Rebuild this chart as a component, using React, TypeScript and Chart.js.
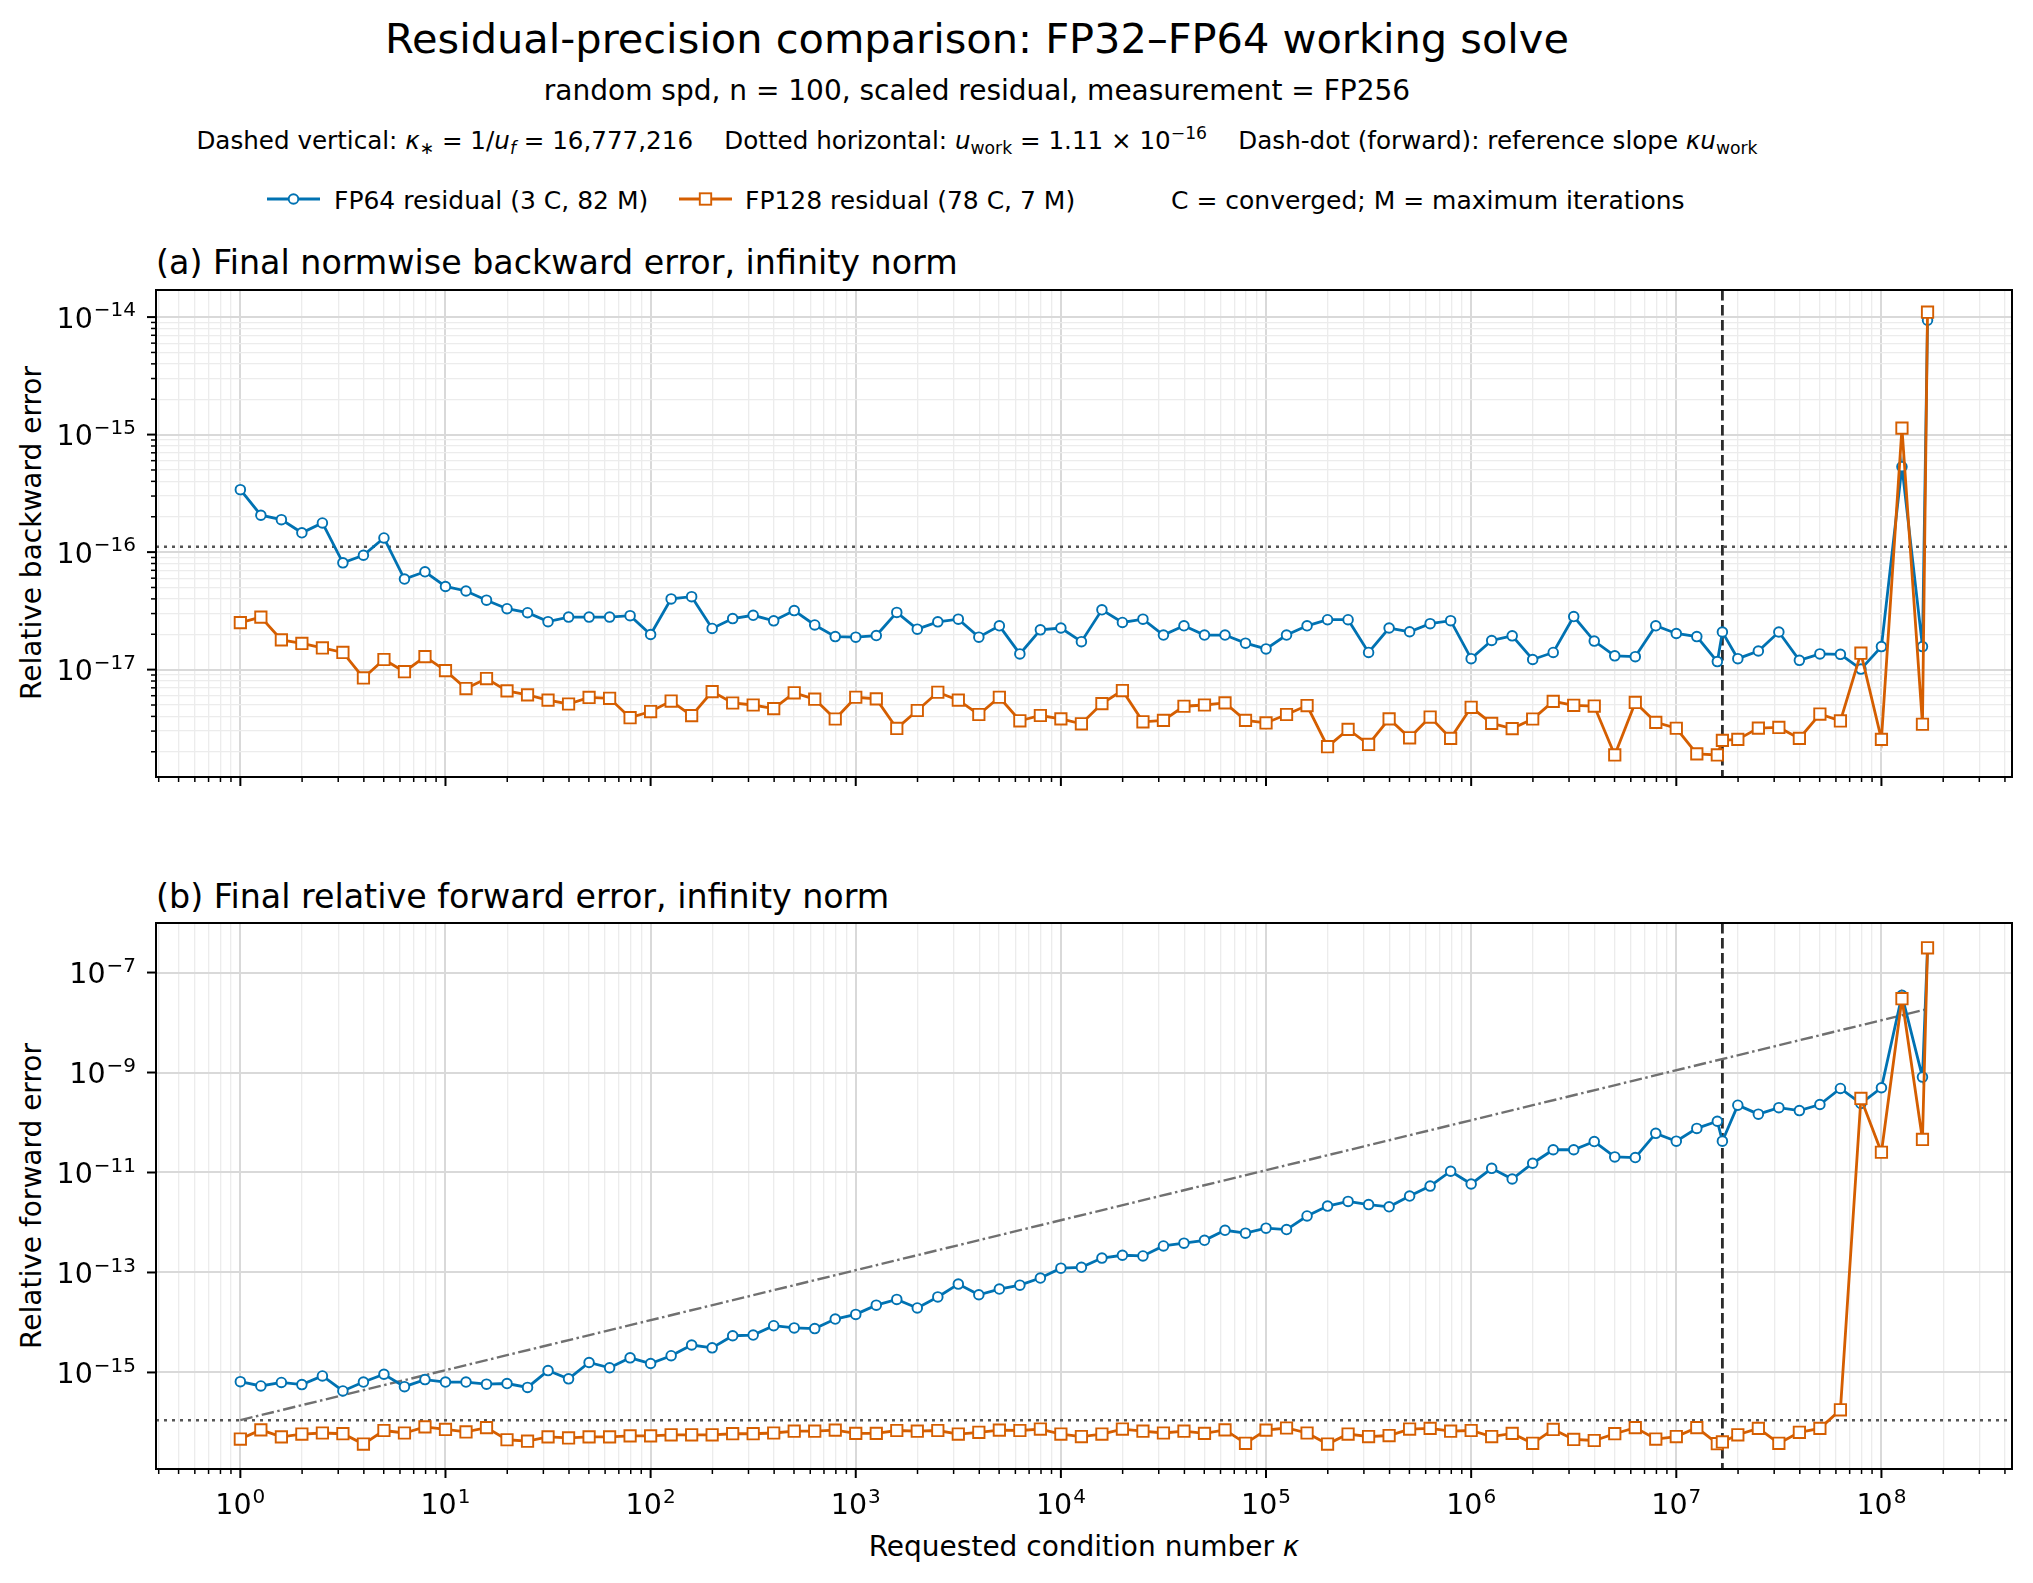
import { useEffect, useRef } from 'react';
import { Chart, registerables } from 'chart.js';

Chart.register(...registerables);

const BLUE = '#0072B2';
const ORANGE = '#D55E00';
const FONT = '"DejaVu Sans", sans-serif';
const GRID_MAJOR = '#d9d9d9';
const GRID_MINOR = '#ececec';

// requested condition numbers: log grid, with kappa* and 10 kappa* slotted in
const kappa = [
  1, 1.259, 1.585, 1.995, 2.512, 3.162, 3.981, 5.012, 6.31, 7.943,
  10, 12.59, 15.85, 19.95, 25.12, 31.62, 39.81, 50.12, 63.1, 79.43,
  100, 125.9, 158.5, 199.5, 251.2, 316.2, 398.1, 501.2, 631, 794.3,
  1e3, 1.259e3, 1.585e3, 1.995e3, 2.512e3, 3.162e3, 3.981e3, 5.012e3, 6.31e3, 7.943e3,
  1e4, 1.259e4, 1.585e4, 1.995e4, 2.512e4, 3.162e4, 3.981e4, 5.012e4, 6.31e4, 7.943e4,
  1e5, 1.259e5, 1.585e5, 1.995e5, 2.512e5, 3.162e5, 3.981e5, 5.012e5, 6.31e5, 7.943e5,
  1e6, 1.259e6, 1.585e6, 1.995e6, 2.512e6, 3.162e6, 3.981e6, 5.012e6, 6.31e6, 7.943e6,
  1e7, 1.259e7, 1.585e7, 16777216, 1.995e7, 2.512e7, 3.162e7, 3.981e7, 5.012e7, 6.31e7, 7.943e7,
  1e8, 1.259e8, 1.585e8, 167772160,
];

// (a) backward error
const fp64Backward = [
  3.4e-16, 2.06e-16, 1.89e-16, 1.46e-16, 1.77e-16, 8.1e-17, 9.4e-17, 1.32e-16, 5.9e-17, 6.8e-17,
  5.1e-17, 4.67e-17, 3.9e-17, 3.3e-17, 3.05e-17, 2.56e-17, 2.8e-17, 2.8e-17, 2.8e-17, 2.88e-17,
  1.99e-17, 4.0e-17, 4.18e-17, 2.24e-17, 2.72e-17, 2.9e-17, 2.6e-17, 3.18e-17, 2.4e-17, 1.91e-17,
  1.89e-17, 1.95e-17, 3.07e-17, 2.21e-17, 2.55e-17, 2.69e-17, 1.89e-17, 2.36e-17, 1.36e-17, 2.18e-17,
  2.26e-17, 1.73e-17, 3.23e-17, 2.52e-17, 2.69e-17, 1.97e-17, 2.36e-17, 1.97e-17, 1.97e-17, 1.68e-17,
  1.5e-17, 1.97e-17, 2.36e-17, 2.66e-17, 2.66e-17, 1.4e-17, 2.26e-17, 2.1e-17, 2.46e-17, 2.61e-17,
  1.24e-17, 1.77e-17, 1.94e-17, 1.22e-17, 1.4e-17, 2.83e-17, 1.75e-17, 1.31e-17, 1.29e-17, 2.36e-17,
  2.03e-17, 1.91e-17, 1.17e-17, 2.09e-17, 1.24e-17, 1.44e-17, 2.09e-17, 1.2e-17, 1.36e-17, 1.35e-17, 1.01e-17,
  1.57e-17, 5.33e-16, 1.57e-17, 9.4e-15,
];
const fp128Backward = [
  2.51e-17, 2.8e-17, 1.79e-17, 1.67e-17, 1.53e-17, 1.4e-17, 8.5e-18, 1.22e-17, 9.6e-18, 1.29e-17,
  9.8e-18, 6.9e-18, 8.4e-18, 6.6e-18, 6.1e-18, 5.5e-18, 5.1e-18, 5.8e-18, 5.7e-18, 3.9e-18,
  4.4e-18, 5.4e-18, 4.06e-18, 6.5e-18, 5.2e-18, 5.0e-18, 4.66e-18, 6.35e-18, 5.6e-18, 3.8e-18,
  5.82e-18, 5.64e-18, 3.16e-18, 4.49e-18, 6.42e-18, 5.5e-18, 4.15e-18, 5.82e-18, 3.67e-18, 4.07e-18,
  3.81e-18, 3.46e-18, 5.14e-18, 6.64e-18, 3.6e-18, 3.7e-18, 4.88e-18, 5.0e-18, 5.21e-18, 3.7e-18,
  3.52e-18, 4.15e-18, 4.95e-18, 2.21e-18, 3.1e-18, 2.31e-18, 3.81e-18, 2.63e-18, 3.95e-18, 2.6e-18,
  4.78e-18, 3.49e-18, 3.15e-18, 3.8e-18, 5.37e-18, 4.97e-18, 4.9e-18, 1.88e-18, 5.26e-18, 3.56e-18,
  3.17e-18, 1.92e-18, 1.88e-18, 2.5e-18, 2.55e-18, 3.18e-18, 3.22e-18, 2.6e-18, 4.19e-18, 3.66e-18, 1.38e-17,
  2.55e-18, 1.135e-15, 3.43e-18, 1.1e-14,
];

// (b) forward error
const fp64Forward = [
  6.53e-16, 5.36e-16, 6.3e-16, 5.72e-16, 8.5e-16, 4.26e-16, 6.42e-16, 9.2e-16, 5.19e-16, 7.2e-16,
  6.42e-16, 6.42e-16, 5.82e-16, 6.0e-16, 5.02e-16, 1.09e-15, 7.44e-16, 1.58e-15, 1.24e-15, 1.96e-15,
  1.51e-15, 2.16e-15, 3.54e-15, 3.1e-15, 5.42e-15, 5.6e-15, 8.6e-15, 7.78e-15, 7.53e-15, 1.17e-14,
  1.45e-14, 2.22e-14, 2.89e-14, 1.95e-14, 3.24e-14, 5.86e-14, 3.58e-14, 4.66e-14, 5.57e-14, 7.74e-14,
  1.22e-13, 1.27e-13, 1.94e-13, 2.21e-13, 2.14e-13, 3.39e-13, 3.86e-13, 4.4e-13, 6.98e-13, 6.12e-13,
  7.7e-13, 7.22e-13, 1.35e-12, 2.13e-12, 2.64e-12, 2.28e-12, 2.06e-12, 3.38e-12, 5.35e-12, 1.06e-11,
  5.89e-12, 1.21e-11, 7.41e-12, 1.53e-11, 2.85e-11, 2.85e-11, 4.16e-11, 2.05e-11, 1.99e-11, 6.07e-11,
  4.23e-11, 7.63e-11, 1.06e-10, 4.23e-11, 2.22e-10, 1.47e-10, 1.98e-10, 1.73e-10, 2.29e-10, 4.8e-10, 2.41e-10,
  4.96e-10, 3.5e-8, 8.1e-10, 3.0e-7,
];
const fp128Forward = [
  4.65e-17, 7.1e-17, 5.13e-17, 5.85e-17, 6.14e-17, 5.94e-17, 3.69e-17, 6.89e-17, 6.14e-17, 8.13e-17,
  7.24e-17, 6.45e-17, 7.86e-17, 4.5e-17, 4.21e-17, 5.13e-17, 4.89e-17, 5.13e-17, 5.13e-17, 5.38e-17,
  5.38e-17, 5.66e-17, 5.66e-17, 5.66e-17, 5.94e-17, 5.94e-17, 6.14e-17, 6.67e-17, 6.67e-17, 7.0e-17,
  6.04e-17, 6.04e-17, 6.89e-17, 6.67e-17, 6.89e-17, 5.85e-17, 6.35e-17, 7.0e-17, 6.89e-17, 7.36e-17,
  5.85e-17, 5.21e-17, 5.85e-17, 7.36e-17, 6.67e-17, 6.14e-17, 6.67e-17, 6.04e-17, 7.1e-17, 3.82e-17,
  7.0e-17, 7.73e-17, 6.14e-17, 3.69e-17, 5.85e-17, 5.21e-17, 5.47e-17, 7.36e-17, 7.6e-17, 6.67e-17,
  6.89e-17, 5.21e-17, 6.04e-17, 3.82e-17, 7.24e-17, 4.57e-17, 4.35e-17, 5.94e-17, 7.86e-17, 4.65e-17,
  5.21e-17, 7.86e-17, 3.75e-17, 4.07e-17, 5.66e-17, 7.6e-17, 3.82e-17, 6.35e-17, 7.6e-17, 1.79e-16, 3.03e-10,
  2.54e-11, 3.0e-8, 4.58e-11, 3.13e-7,
];

// reference slope kappa * u_work (dash-dot, forward panel)
const refKappa = [1, 167772160];
const refSlope = [1.11e-16, 1.862e-8];

const kappaStar = 16777216;
const uWork = 1.11e-16;

const isPow = (v: number) => Math.abs(Math.log10(v) - Math.round(Math.log10(v))) < 1e-6;

function logTicks(min: number, max: number, keep: (e: number, m: number) => boolean) {
  const out: { value: number }[] = [];
  for (let e = Math.floor(Math.log10(min)); e <= Math.ceil(Math.log10(max)); e++) {
    for (let m = 1; m <= 9; m++) {
      const v = Number(`${m}e${e}`);
      if (v >= min && v <= max && keep(e, m)) out.push({ value: v });
    }
  }
  return out;
}

const pts = (xs: number[], ys: number[]) => xs.map((x, i) => ({ x, y: ys[i] }));

// "10" with a raised exponent, like matplotlib's mathtext tick labels
function drawPowLabel(ctx: CanvasRenderingContext2D, v: number, x: number, y: number, align: 'center' | 'right') {
  const exp = String(Math.round(Math.log10(v))).replace('-', '\u2212');
  const base = `28.5px ${FONT}`;
  const small = `20px ${FONT}`;
  ctx.font = base;
  const wb = ctx.measureText('10').width;
  ctx.font = small;
  const we = ctx.measureText(exp).width;
  const total = wb + 1 + we;
  const x0 = align === 'center' ? x - total / 2 : x - total;
  ctx.fillStyle = '#000';
  ctx.textAlign = 'left';
  ctx.textBaseline = 'alphabetic';
  ctx.font = base;
  ctx.fillText('10', x0, y);
  ctx.font = small;
  ctx.fillText(exp, x0 + wb + 1, y - 11.5);
}

const axesPlugin = {
  id: 'axesDecor',
  beforeDatasetsDraw(chart: any) {
    const { ctx, chartArea: a } = chart;
    const xs = chart.scales.x;
    const ys = chart.scales.y;
    ctx.save();
    ctx.beginPath();
    ctx.rect(a.left, a.top, a.right - a.left, a.bottom - a.top);
    ctx.clip();
    // dotted horizontal at u_work
    const yp = ys.getPixelForValue(uWork);
    ctx.setLineDash([3, 5]);
    ctx.strokeStyle = '#555555';
    ctx.lineWidth = 2.5;
    ctx.beginPath();
    ctx.moveTo(a.left, yp);
    ctx.lineTo(a.right, yp);
    ctx.stroke();
    // dashed vertical at kappa*
    const xp = xs.getPixelForValue(kappaStar);
    ctx.setLineDash([10.5, 4.5]);
    ctx.strokeStyle = '#2b2b2b';
    ctx.lineWidth = 2.8;
    ctx.beginPath();
    ctx.moveTo(xp, a.top);
    ctx.lineTo(xp, a.bottom);
    ctx.stroke();
    ctx.restore();
  },
  afterDraw(chart: any, _args: any, opts: any) {
    const { ctx, chartArea: a } = chart;
    const xs = chart.scales.x;
    const ys = chart.scales.y;
    ctx.save();
    ctx.strokeStyle = '#000';
    for (const t of xs.ticks) {
      const p = xs.getPixelForValue(t.value);
      const major = isPow(t.value);
      ctx.lineWidth = major ? 2 : 1.5;
      ctx.beginPath();
      ctx.moveTo(p, a.bottom);
      ctx.lineTo(p, a.bottom + (major ? 9 : 5));
      ctx.stroke();
      if (major && opts.xLabels) drawPowLabel(ctx, t.value, p, a.bottom + 45, 'center');
    }
    for (const t of ys.ticks) {
      const p = ys.getPixelForValue(t.value);
      const major = isPow(t.value);
      ctx.lineWidth = major ? 2 : 1.5;
      ctx.beginPath();
      ctx.moveTo(a.left, p);
      ctx.lineTo(a.left - (major ? 9 : 5), p);
      ctx.stroke();
      if (major) drawPowLabel(ctx, t.value, a.left - 20, p + 10.8, 'right');
    }
    ctx.lineWidth = 2;
    ctx.strokeRect(a.left, a.top, a.right - a.left, a.bottom - a.top);
    ctx.restore();
  },
};

function logAxis(min: number, max: number, keep: (e: number, m: number) => boolean, fit: (s: any) => void) {
  return {
    type: 'logarithmic' as const,
    min,
    max,
    bounds: 'data' as const,
    afterBuildTicks: (s: any) => {
      s.ticks = logTicks(s.min, s.max, keep);
    },
    afterFit: fit,
    border: { display: false },
    grid: {
      drawTicks: false,
      color: (c: any) => (c.tick && isPow(c.tick.value) ? GRID_MAJOR : GRID_MINOR),
      lineWidth: (c: any) => (c.tick && isPow(c.tick.value) ? 2 : 1.3),
    },
    ticks: { display: false, autoSkip: false },
  };
}

const X_MIN = 0.388;
const X_MAX = 4.33e8;

function seriesSets(fp64: number[], fp128: number[]) {
  return [
    {
      label: 'FP64 residual (3 C, 82 M)',
      data: pts(kappa, fp64),
      borderColor: BLUE,
      backgroundColor: BLUE,
      borderWidth: 2.8,
      pointStyle: 'circle',
      pointRadius: 4.8,
      pointBorderWidth: 1.9,
      pointBackgroundColor: '#fff',
      pointBorderColor: BLUE,
      order: 1,
    },
    {
      label: 'FP128 residual (78 C, 7 M)',
      data: pts(kappa, fp128),
      borderColor: ORANGE,
      backgroundColor: ORANGE,
      borderWidth: 2.8,
      pointStyle: 'rect',
      pointRadius: 8,
      pointBorderWidth: 1.9,
      pointBackgroundColor: '#fff',
      pointBorderColor: ORANGE,
      order: 0,
    },
  ];
}

const baseOptions = {
  responsive: false,
  animation: false as const,
  layout: { padding: { top: 36, left: 0, right: 21, bottom: 26 } },
  elements: { line: { tension: 0 } },
};

function Handle({ color, square, left }: { color: string; square?: boolean; left: number }) {
  return (
    <svg width={53} height={20} style={{ position: 'absolute', left, top: 189 }}>
      <line x1={0} y1={10} x2={53} y2={10} stroke={color} strokeWidth={2.8} />
      {square ? (
        <rect x={20.8} y={4.3} width={11.4} height={11.4} fill="#fff" stroke={color} strokeWidth={1.9} />
      ) : (
        <circle cx={26.5} cy={10} r={4.8} fill="#fff" stroke={color} strokeWidth={1.9} />
      )}
    </svg>
  );
}

const centered = (x: number, y: number, size: number): React.CSSProperties => ({
  position: 'absolute',
  left: x,
  top: y,
  transform: 'translate(-50%, -50%)',
  fontSize: size,
  lineHeight: 1,
  whiteSpace: 'pre',
});

const leftText = (x: number, y: number, size: number): React.CSSProperties => ({
  position: 'absolute',
  left: x,
  top: y,
  transform: 'translateY(-50%)',
  fontSize: size,
  lineHeight: 1,
  whiteSpace: 'pre',
});

const subStyle: React.CSSProperties = { fontSize: '70%', verticalAlign: '-0.3em', lineHeight: 0 };
const supStyle: React.CSSProperties = { fontSize: '70%', verticalAlign: '0.55em', lineHeight: 0 };

export default function App(): React.JSX.Element {
  const topRef = useRef<HTMLCanvasElement>(null);
  const botRef = useRef<HTMLCanvasElement>(null);

  useEffect(() => {
    document.body.style.margin = '0';
    if (!topRef.current || !botRef.current) return;

    const top = new Chart(topRef.current, {
      type: 'line',
      data: { datasets: seriesSets(fp64Backward, fp128Backward) as any },
      options: {
        ...baseOptions,
        plugins: { legend: { display: false }, tooltip: { enabled: false }, axesDecor: { xLabels: false } },
        scales: {
          x: logAxis(X_MIN, X_MAX, () => true, (s: any) => { s.height = 10; }),
          y: logAxis(1.22e-18, 1.7e-14, () => true, (s: any) => { s.width = 156; }),
        },
      } as any,
      plugins: [axesPlugin],
    });

    const bot = new Chart(botRef.current, {
      type: 'line',
      data: {
        datasets: [
          ...seriesSets(fp64Forward, fp128Forward),
          {
            label: 'reference slope',
            data: pts(refKappa, refSlope),
            borderColor: '#707070',
            borderWidth: 2.4,
            borderDash: [12.5, 3.5, 2.5, 3.5],
            pointRadius: 0,
            order: 2,
          },
        ] as any,
      },
      options: {
        ...baseOptions,
        layout: { padding: { top: 36, left: 0, right: 21, bottom: 10 } },
        plugins: { legend: { display: false }, tooltip: { enabled: false }, axesDecor: { xLabels: true } },
        scales: {
          x: logAxis(X_MIN, X_MAX, () => true, (s: any) => { s.height = 60; }),
          y: logAxis(1.17e-17, 9.8e-7, (e, m) => m === 1 && Math.abs(e) % 2 === 1, (s: any) => {
            s.width = 156;
          }),
        },
      } as any,
      plugins: [axesPlugin],
    });

    return () => {
      top.destroy();
      bot.destroy();
    };
  }, []);

  return (
    <div
      style={{
        position: 'relative',
        width: 2033,
        height: 1583,
        background: '#fff',
        color: '#000',
        fontFamily: FONT,
        overflow: 'hidden',
      }}
    >
      <div style={centered(977, 39, 41.5)}>Residual-precision comparison: FP32–FP64 working solve</div>
      <div style={centered(977, 91, 28)}>random spd, n = 100, scaled residual, measurement = FP256</div>
      <div style={centered(977, 141, 24.6)}>
        Dashed vertical: <i>κ</i>
        <span style={subStyle}>∗</span> = 1/<i>u</i>
        <span style={subStyle}>
          <i>f</i>
        </span>{' = 16,777,216    Dotted horizontal: '}
        <i>u</i>
        <span style={subStyle}>work</span>
        {' = 1.11 × 10'}
        <span style={supStyle}>−16</span>
        {'    Dash-dot (forward): reference slope '}
        <i>κu</i>
        <span style={subStyle}>work</span>
      </div>

      <Handle color={BLUE} left={267} />
      <div style={leftText(334, 200, 25)}>FP64 residual (3 C, 82 M)</div>
      <Handle color={ORANGE} square left={679} />
      <div style={leftText(745, 200, 25)}>FP128 residual (78 C, 7 M)</div>
      <div style={leftText(1171, 200, 25)}>C = converged; M = maximum iterations</div>

      <div style={leftText(156, 263, 33.3)}>(a) Final normwise backward error, infinity norm</div>
      <div style={leftText(156, 897, 33.3)}>(b) Final relative forward error, infinity norm</div>

      <div style={{ ...centered(32, 533, 28), transform: 'translate(-50%, -50%) rotate(-90deg)' }}>
        Relative backward error
      </div>
      <div style={{ ...centered(32, 1196, 28), transform: 'translate(-50%, -50%) rotate(-90deg)' }}>
        Relative forward error
      </div>
      <div style={centered(1084, 1547, 28)}>
        Requested condition number <i>κ</i>
      </div>

      <canvas ref={topRef} width={2033} height={559} style={{ position: 'absolute', left: 0, top: 254 }} />
      <canvas ref={botRef} width={2033} height={652} style={{ position: 'absolute', left: 0, top: 887 }} />
    </div>
  );
}
